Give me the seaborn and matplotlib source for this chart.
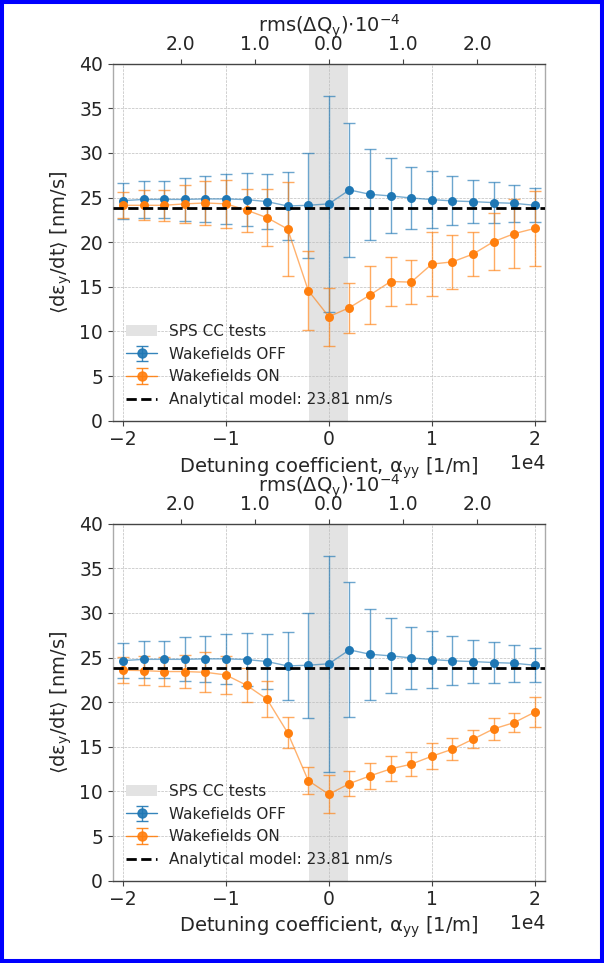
import numpy as np
import pandas as pd
import matplotlib
matplotlib.use("Agg")
import matplotlib.pyplot as plt
import seaborn as sns
from matplotlib.patches import Patch, Rectangle
from matplotlib.ticker import ScalarFormatter

# ---------------- data ----------------
detuning = [-20000, -18000, -16000, -14000, -12000, -10000, -8000, -6000, -4000, -2000,
            0, 2000, 4000, 6000, 8000, 10000, 12000, 14000, 16000, 18000, 20000]

off_mean = [24.66, 24.8, 24.8, 24.8, 24.85, 24.85, 24.78, 24.55, 24.06, 24.14,
            24.3, 25.86, 25.37, 25.19, 24.96, 24.78, 24.63, 24.55, 24.44, 24.36, 24.14]
off_err = [2.0, 2.1, 2.1, 2.45, 2.55, 2.8, 2.95, 3.1, 3.85, 5.9,
           12.1, 7.55, 5.1, 4.2, 3.5, 3.15, 2.75, 2.4, 2.3, 2.05, 1.9]

on_mean_top = [24.14, 24.14, 24.14, 24.3, 24.4, 24.3, 23.6, 22.75, 21.48, 14.59,
               11.66, 12.67, 14.09, 15.6, 15.53, 17.55, 17.8, 18.67, 20.06, 20.96, 21.55]
on_err_top = [1.45, 1.7, 1.75, 2.1, 2.5, 2.7, 2.4, 3.2, 5.3, 4.4,
              3.25, 2.8, 3.2, 2.8, 2.5, 3.6, 3.0, 2.45, 3.2, 3.9, 4.2]

on_mean_bottom = [23.58, 23.54, 23.43, 23.43, 23.35, 23.05, 21.9, 20.32, 16.57, 11.21,
                  9.68, 10.88, 11.74, 12.52, 13.05, 13.94, 14.73, 15.85, 17.0, 17.71, 18.88]
on_err_bottom = [1.45, 1.6, 1.6, 1.8, 2.25, 2.1, 1.9, 2.0, 1.75, 1.55,
                 2.15, 1.4, 1.45, 1.4, 1.33, 1.46, 1.25, 1.03, 1.2, 1.03, 1.65]

analytical = 23.81
band_edges = [-1900, 1900]
top_tick_pos = [-14400, -7200, 0, 7200, 14400]
top_tick_labels = ["2.0", "1.0", "0.0", "1.0", "2.0"]
y_ticks = [0, 5, 10, 15, 20, 25, 30, 35, 40]

labels = ["SPS CC tests", "Wakefields OFF", "Wakefields ON",
          "Analytical model: 23.81 nm/s"]

# ---------------- style ----------------
sns.set_style("white")
plt.rcParams["font.family"] = ["DejaVu Sans"]
plt.rcParams["mathtext.default"] = "regular"

BLUE = "#1f77b4"
ORANGE = "#ff7f0e"
BAND = "#e3e3e3"
TICK_FS = 13.5
LABEL_FS = 14
LEG_FS = 11

fig = plt.figure(figsize=(6.04, 9.63), dpi=100)
ax_top = fig.add_axes([0.1866, 0.5631, 0.7157, 0.3707])
ax_bot = fig.add_axes([0.1866, 0.0855, 0.7157, 0.3707])


def draw_panel(ax, on_mean, on_err):
    df = pd.DataFrame({"x": detuning, "off": off_mean, "off_err": off_err,
                       "on": on_mean, "on_err": on_err})
    ax.axvspan(band_edges[0], band_edges[1], color=BAND, lw=0, zorder=0)
    handles = [Patch(facecolor=BAND, edgecolor="none")]
    for col, ecol, c in [("off", "off_err", BLUE), ("on", "on_err", ORANGE)]:
        ax.errorbar(df["x"], df[col], yerr=df[ecol], fmt="none", ecolor=c,
                    elinewidth=1.0, capsize=4.5, capthick=1.0, alpha=0.65, zorder=2)
        sns.lineplot(data=df, x="x", y=col, ax=ax, color=c, lw=1.0, alpha=0.6,
                     zorder=3)
        sns.scatterplot(data=df, x="x", y=col, ax=ax, color=c, s=42,
                        linewidth=0, zorder=4)
        proxy = ax.errorbar([np.nan], [np.nan], yerr=[np.nan], fmt="-o",
                            color=c, ms=6.5, lw=1.0, elinewidth=1.0, capsize=4.5,
                            alpha=0.9)
        handles.append(proxy)
    hl = ax.axhline(analytical, color="black", ls="--", lw=2.0, zorder=5)
    handles.append(hl)

    ax.set_xlim(-21000, 21000)
    ax.set_ylim(0, 40)
    ax.set_yticks(y_ticks)
    ax.set_xticks([-20000, -10000, 0, 10000, 20000])
    fmt = ScalarFormatter(useMathText=False)
    fmt.set_powerlimits((0, 0))
    ax.xaxis.set_major_formatter(fmt)
    ax.xaxis.get_offset_text().set_fontsize(TICK_FS)
    ax.grid(True, ls="--", lw=0.5, color="#bdbdbd")
    ax.tick_params(axis="both", labelsize=TICK_FS, length=3.5, width=0.8,
                   bottom=True, left=True, color="#444444")
    ax.set_xlabel(r"Detuning coefficient, $\alpha_{yy}$ [1/m]", fontsize=LABEL_FS)
    ax.set_ylabel(r"$\langle dε_y/dt\rangle$ [nm/s]", fontsize=LABEL_FS)
    for side in ["left", "right"]:
        ax.spines[side].set_color("#aaaaaa")
        ax.spines[side].set_linewidth(1.0)
    for side in ["top", "bottom"]:
        ax.spines[side].set_color("#444444")
        ax.spines[side].set_linewidth(1.0)

    ax.legend(handles, labels, loc="lower left", frameon=False, fontsize=LEG_FS,
              handlelength=2.0)

    ax2 = ax.twiny()
    ax2.set_xlim(ax.get_xlim())
    ax2.set_xticks(top_tick_pos)
    ax2.set_xticklabels(top_tick_labels)
    ax2.tick_params(axis="x", labelsize=TICK_FS, length=3.5, width=0.8,
                    color="#444444", top=True)
    ax2.set_xlabel(r"rms($\Delta Q_y$)$\cdot10^{-4}$", fontsize=LABEL_FS,
                   labelpad=2)
    ax2.grid(False)
    for side in ax2.spines:
        ax2.spines[side].set_visible(False)


draw_panel(ax_top, on_mean_top, on_err_top)
draw_panel(ax_bot, on_mean_bottom, on_err_bottom)

fig.add_artist(Rectangle((0, 0), 1, 1, transform=fig.transFigure, fill=False,
                         edgecolor="#0000ff", lw=5.8, clip_on=False))

fig.savefig("out.png", dpi=100)
